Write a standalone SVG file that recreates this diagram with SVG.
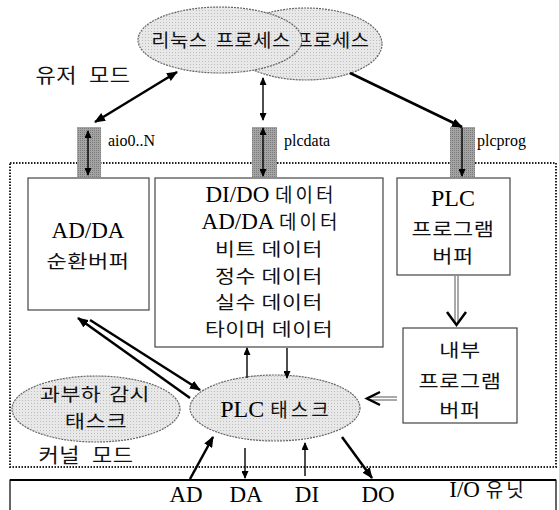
<svg xmlns="http://www.w3.org/2000/svg" width="559" height="510" viewBox="0 0 559 510">
<defs>
<marker id="ah" markerUnits="userSpaceOnUse" markerWidth="11" markerHeight="9" refX="10" refY="4.5" orient="auto-start-reverse"><path d="M0,0 L11,4.5 L0,9 z" fill="#000"/></marker>
<marker id="as" markerUnits="userSpaceOnUse" markerWidth="8" markerHeight="7" refX="7" refY="3.5" orient="auto-start-reverse"><path d="M0,0 L8,3.5 L0,7 z" fill="#000"/></marker>
<pattern id="dots" width="3" height="3" patternUnits="userSpaceOnUse"><rect width="3" height="3" fill="#e8e8e8"/><rect x="1" y="1" width="1" height="1" fill="#bdbdbd"/></pattern>
<pattern id="dark" width="2" height="2" patternUnits="userSpaceOnUse"><rect width="2" height="2" fill="#a4a4a4"/><rect width="1" height="1" fill="#7a7a7a"/></pattern>
</defs>
<style>
.t{font-family:"Liberation Serif","Noto Sans CJK KR",serif;fill:#000;text-anchor:middle}
.lb{font-family:"Liberation Serif",serif;fill:#000;text-anchor:start;font-size:16px}
.k{font-family:"Noto Sans CJK KR","Liberation Sans",sans-serif;fill:#111;text-anchor:middle;font-size:18px;letter-spacing:0.5px;word-spacing:0px}
.kh{font-family:"Noto Sans CJK KR","Liberation Sans",sans-serif;font-size:19px;letter-spacing:3px;fill:#111}
.box{fill:#fff;stroke:#444;stroke-width:1.2}
.ell{fill:url(#dots);stroke:#666;stroke-width:1.2;stroke-dasharray:2 1}
.port{fill:url(#dark);stroke:none}
.thick{stroke:#000;stroke-width:2.5;fill:none}
.thin{stroke:#000;stroke-width:1.4;fill:none}
.hol{stroke:#555;stroke-width:1;fill:none}
</style>
<rect width="559" height="510" fill="#fff"/>

<g id="kernel">
<rect x="10" y="163" width="546" height="304" fill="none" stroke="#222" stroke-width="2" stroke-dasharray="1.5 1.5"/>
<text class="k" transform="matrix(1.1 0 0 1 86 463)" style="font-size:20px;word-spacing:6px">커널 모드</text>
</g>
<text id="user-mode" class="k" transform="matrix(1.1 0 0 1 83 83)" style="font-size:20px;word-spacing:6px">유저 모드</text>

<g id="process2">
<ellipse class="ell" cx="306" cy="44" rx="76" ry="36"/>
<text class="k" transform="matrix(1.1 0 0 1 332 47)">프로세스</text>
</g>
<g id="process1">
<ellipse class="ell" cx="220" cy="40" rx="82" ry="33"/>
<text class="k" transform="matrix(1.1 0 0 1 221 47)" style="word-spacing:3px">리눅스 프로세스</text>
</g>

<g id="port-aio">
<rect class="port" x="77" y="127" width="24" height="50"/>
<text class="lb" x="108" y="146">aio0..N</text>
</g>
<g id="port-plcdata">
<rect class="port" x="252" y="127" width="25" height="50"/>
<text class="lb" x="284" y="146">plcdata</text>
</g>
<g id="port-plcprog">
<rect class="port" x="450" y="127" width="25" height="50"/>
<text class="lb" x="477" y="146">plcprog</text>
</g>

<g id="adda-buffer">
<rect class="box" x="28" y="178" width="121" height="132"/>
<text class="t" x="88" y="238" font-size="23">AD/DA</text>
<text class="k" transform="matrix(1.22 0 0 1 88 268)">순환버퍼</text>
</g>

<g id="data-box">
<rect class="box" x="155" y="178" width="228" height="169"/>
<text class="t" x="271" y="202" font-size="23">DI/DO <tspan class="kh">데이터</tspan></text>
<text class="t" x="271" y="229" font-size="23">AD/DA <tspan class="kh">데이터</tspan></text>
<text class="k" transform="matrix(1.2 0 0 1 269 256)">비트 데이터</text>
<text class="k" transform="matrix(1.2 0 0 1 269 283)">정수 데이터</text>
<text class="k" transform="matrix(1.2 0 0 1 269 309)">실수 데이터</text>
<text class="k" transform="matrix(1.2 0 0 1 269 336)">타이머 데이터</text>
</g>

<g id="plc-program-buffer">
<rect class="box" x="397" y="178" width="113" height="97"/>
<text class="t" x="453" y="206" font-size="24">PLC</text>
<text class="k" transform="matrix(1.22 0 0 1 453 236)">프로그램</text>
<text class="k" transform="matrix(1.22 0 0 1 453 263)">버퍼</text>
</g>

<g id="internal-program-buffer">
<rect class="box" x="403" y="328" width="114" height="95"/>
<text class="k" transform="matrix(1.22 0 0 1 460 357)">내부</text>
<text class="k" transform="matrix(1.22 0 0 1 460 388)">프로그램</text>
<text class="k" transform="matrix(1.22 0 0 1 460 417)">버퍼</text>
</g>

<g id="overload-task">
<ellipse class="ell" cx="96" cy="409" rx="84" ry="33"/>
<text class="k" transform="matrix(1.2 0 0 1 95 401)" style="word-spacing:2px">과부하 감시</text>
<text class="k" transform="matrix(1.22 0 0 1 96 428)">태스크</text>
</g>

<g id="plc-task">
<ellipse class="ell" cx="275" cy="408" rx="85" ry="33"/>
<text class="t" x="276" y="417" font-size="24">PLC <tspan class="kh">태스크</tspan></text>
</g>

<g id="io-unit">
<path d="M10,510 V480 H556 V510" fill="none" stroke="#000" stroke-width="1.2"/>
<line x1="10" y1="480" x2="556" y2="480" stroke="#000" stroke-width="2"/>
<text class="t" x="186" y="502" font-size="23">AD</text>
<text class="t" x="246" y="502" font-size="23">DA</text>
<text class="t" x="307" y="502" font-size="23">DI</text>
<text class="t" x="378" y="502" font-size="23">DO</text>
<text class="t" x="488" y="497" font-size="23">I/O <tspan class="kh">유닛</tspan></text>
</g>

<g id="connectors">
<line class="thick" x1="177" y1="72" x2="95" y2="122" marker-start="url(#ah)" marker-end="url(#ah)"/>
<line class="thin" x1="263" y1="78" x2="263" y2="120" marker-start="url(#as)" marker-end="url(#as)"/>
<line class="thick" x1="350" y1="73" x2="462" y2="127" marker-end="url(#ah)"/>
<line class="thin" x1="88" y1="131" x2="88" y2="175" marker-start="url(#as)" marker-end="url(#as)"/>
<line class="thin" x1="263" y1="128" x2="263" y2="176" marker-start="url(#as)" marker-end="url(#as)"/>
<line class="thin" x1="462" y1="128" x2="462" y2="176" marker-end="url(#as)"/>
<line class="thick" x1="190" y1="398" x2="78" y2="318" marker-end="url(#ah)"/>
<line class="thick" x1="90" y1="320" x2="200" y2="390" marker-end="url(#ah)"/>
<line class="thin" x1="247" y1="378" x2="247" y2="348" marker-end="url(#as)"/>
<line class="thin" x1="287" y1="348" x2="287" y2="378" marker-end="url(#as)"/>
<line class="thick" x1="190" y1="479" x2="213" y2="437" marker-end="url(#ah)"/>
<line class="thin" x1="245" y1="448" x2="245" y2="478" marker-end="url(#as)"/>
<line class="thin" x1="305" y1="476" x2="305" y2="443" marker-end="url(#as)"/>
<line class="thick" x1="342" y1="437" x2="372" y2="478" marker-end="url(#ah)"/>
<path class="hol" d="M455,276 V322 M458,276 V322"/>
<path d="M447,312 L456.5,325 L466,312" fill="none" stroke="#000" stroke-width="2.5"/>
<path class="hol" d="M370,397 H397 M370,400 H397"/>
<path d="M380,392 L367,398.5 L380,405" fill="none" stroke="#000" stroke-width="2.5"/>
</g>
</svg>
